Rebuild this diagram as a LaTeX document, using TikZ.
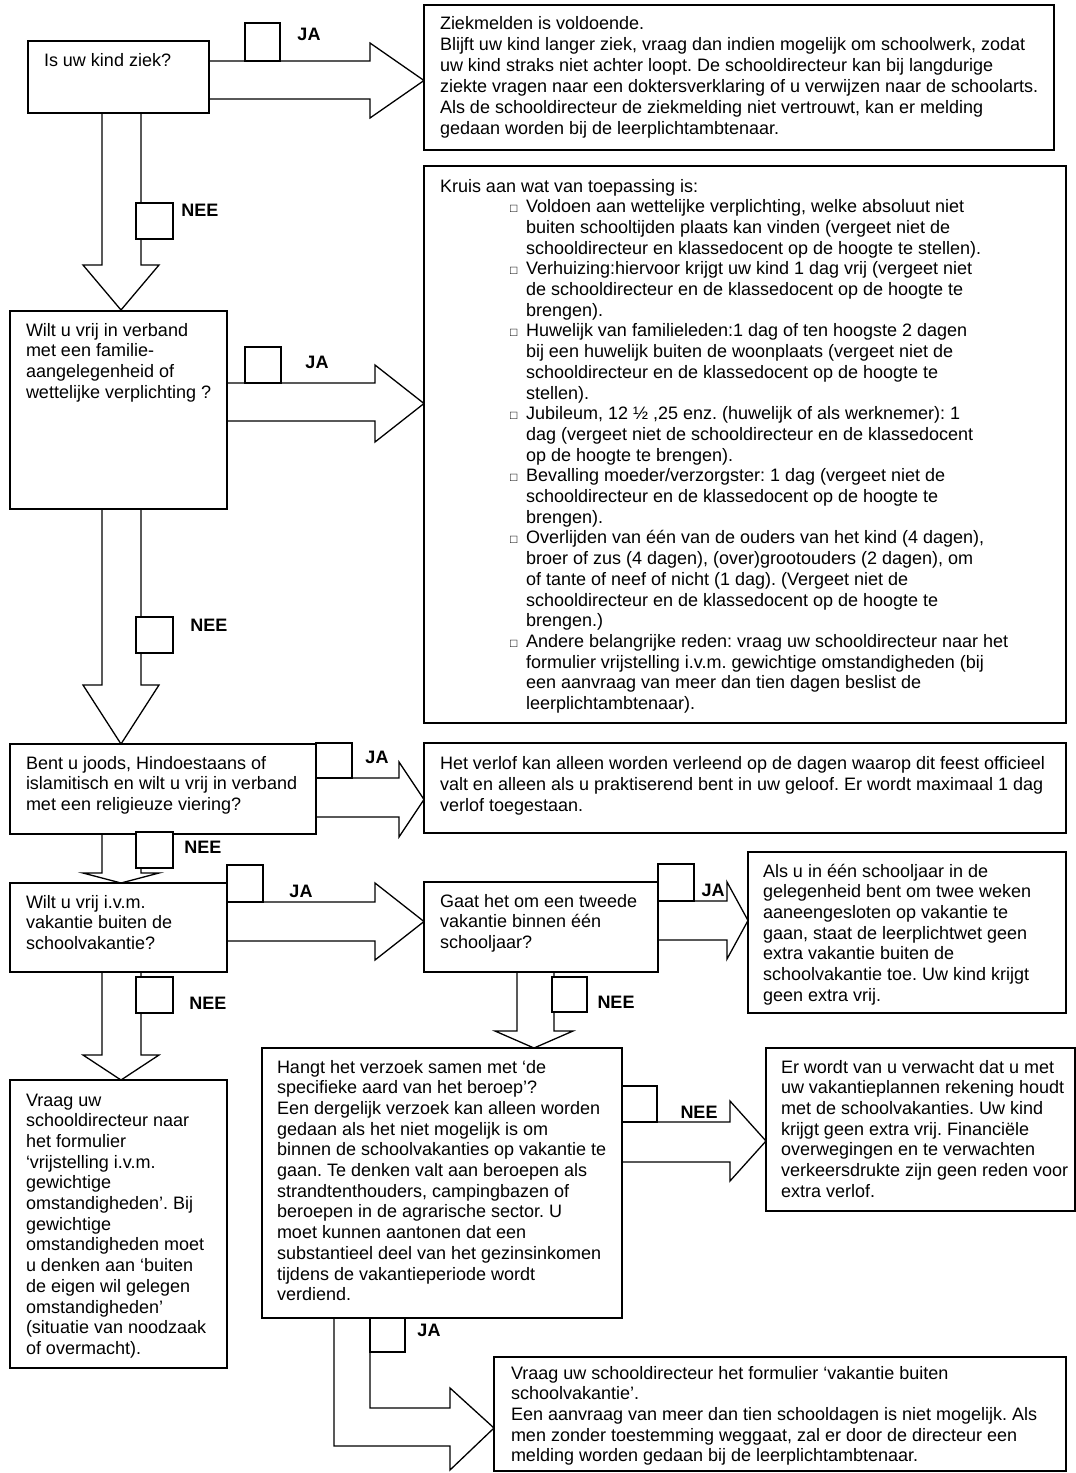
\documentclass[tikz,border=0pt]{standalone}
\usepackage{fontspec}
\setmainfont{Liberation Sans}
\newcommand\st{\rule{0pt}{14pt}}
\newcommand\itm{\hspace*{70pt}\makebox[16pt][l]{\fontsize{12}{12}\selectfont □}}
\newcommand\cnt{\hspace*{86pt}}
\tikzset{
  boxs/.style={draw=black, line width=1.3pt, fill=white, inner sep=0pt, outer sep=0pt, anchor=north west},
  txt/.style={anchor=north west, inner sep=0pt, outer sep=0pt, align=left, font=\fontsize{18}{20.7}\selectfont\frenchspacing},
  lbl/.style={font=\fontsize{18}{20}\selectfont\bfseries, inner sep=0pt},
  chk/.style={draw=black, line width=1.3pt, fill=white},
  blk/.style={draw=black, line width=1.3pt, fill=white, line join=miter},
}
% right block arrow: x0 x1 xtip ytop ybot headtop headbot
\newcommand\rarr[7]{\draw[blk] (#1,#4) -- (#2,#4) -- (#2,#6) -- (#3,{(#6+#7)/2}) -- (#2,#7) -- (#2,#5) -- (#1,#5);}
% down block arrow: xl xr y0 y1 headl headr ytip
\newcommand\darr[7]{\draw[blk] (#1,#3) -- (#1,#4) -- (#5,#4) -- ({(#5+#6)/2},#7) -- (#6,#4) -- (#2,#4) -- (#2,#3);}
\begin{document}
\frenchspacing
\begin{tikzpicture}[x=1pt,y=-1pt]
\useasboundingbox (0,0) rectangle (1076,1473);

% ---------- block arrows ----------
\rarr{209}{370}{424}{61}{99}{43}{118}
\darr{102}{141}{113}{265}{83}{159}{310}
\rarr{227}{375}{424}{383}{421}{365}{442}
\darr{102}{141}{509}{685}{83}{159}{744}
\rarr{316}{399}{424}{778}{817}{762}{837}
\darr{102}{141}{834}{873}{83}{159}{883}
\rarr{227}{375}{424}{902}{941}{883}{960}
\darr{102}{141}{972}{1055}{83}{159}{1080}
\rarr{658}{727}{748}{901}{940}{882}{959}
\darr{517}{554}{972}{1031}{495}{573}{1048}
\rarr{622}{730}{766}{1122}{1162}{1101}{1181}
\draw[blk] (334,1318) -- (334,1446) -- (450,1446) -- (450,1470) -- (494,1428) -- (450,1388) -- (450,1408) -- (370,1408) -- (370,1318);

% ---------- boxes ----------
\node[boxs, minimum width=181, minimum height=72]  (A) at (28,41) {};
\node[boxs, minimum width=217, minimum height=198] (B) at (10,311) {};
\node[boxs, minimum width=306, minimum height=90]  (C) at (10,744) {};
\node[boxs, minimum width=217, minimum height=89]  (D) at (10,883) {};
\node[boxs, minimum width=217, minimum height=288] (E) at (10,1080) {};
\node[boxs, minimum width=234, minimum height=90]  (F) at (424,882) {};
\node[boxs, minimum width=318, minimum height=161] (G) at (748,852) {};
\node[boxs, minimum width=360, minimum height=270] (H) at (262,1048) {};
\node[boxs, minimum width=309, minimum height=163] (I) at (766,1048) {};
\node[boxs, minimum width=572, minimum height=114] (J) at (494,1357) {};
\node[boxs, minimum width=630, minimum height=145] (Z1) at (424,5) {};
\node[boxs, minimum width=642, minimum height=557] (Z2) at (424,166) {};
\node[boxs, minimum width=642, minimum height=90]  (Z3) at (424,743) {};

% ---------- check squares ----------
\draw[chk] (245,23) rectangle (280,61);
\draw[chk] (136,203) rectangle (173,239);
\draw[chk] (245,347) rectangle (281,383);
\draw[chk] (136,617) rectangle (173,653);
\draw[chk] (316,743) rectangle (352,778);
\draw[chk] (136,832) rectangle (173,868);
\draw[chk] (227,865) rectangle (263,902);
\draw[chk] (136,977) rectangle (173,1013);
\draw[chk] (658,864) rectangle (694,901);
\draw[chk] (552,977) rectangle (587,1012);
\draw[chk] (622,1086) rectangle (657,1122);
\draw[chk] (370,1318) rectangle (405,1352);

% ---------- labels ----------
\node[lbl] (l1) at (309,34) {JA};
\node[lbl] (l2) at (200,210) {NEE};
\node[lbl] (l3) at (317,362) {JA};
\node[lbl] (l4) at (209,625) {NEE};
\node[lbl] (l5) at (377,757) {JA};
\node[lbl] (l6) at (203,847) {NEE};
\node[lbl] (l7) at (301,891) {JA};
\node[lbl] (l8) at (208,1003) {NEE};
\node[lbl] (l9) at (713,890) {JA};
\node[lbl] (l10) at (616,1002) {NEE};
\node[lbl] (l11) at (699,1112) {NEE};
\node[lbl] (l12) at (429,1330) {JA};

% ---------- texts ----------
\node[txt] (tA) at (44,52) {\st Is uw kind ziek?};
\node[txt] (tB) at (26,322) {\st Wilt u vrij in verband\\met een familie-\\aangelegenheid of\\wettelijke verplichting ?};
\node[txt] (tC) at (26,755) {\st Bent u joods, Hindoestaans of\\islamitisch en wilt u vrij in verband\\met een religieuze viering?};
\node[txt] (tD) at (26,894) {\st Wilt u vrij i.v.m.\\vakantie buiten de\\schoolvakantie?};
\node[txt] (tE) at (26,1092) {\st Vraag uw\\schooldirecteur naar\\het formulier\\‘vrijstelling i.v.m.\\gewichtige\\omstandigheden’. Bij\\gewichtige\\omstandigheden moet\\u denken aan ‘buiten\\de eigen wil gelegen\\omstandigheden’\\(situatie van noodzaak\\of overmacht).};
\node[txt] (tF) at (440,893) {\st Gaat het om een tweede\\vakantie binnen één\\schooljaar?};
\node[txt] (tG) at (763,863) {\st Als u in één schooljaar in de\\gelegenheid bent om twee weken\\aaneengesloten op vakantie te\\gaan, staat de leerplichtwet geen\\extra vakantie buiten de\\schoolvakantie toe. Uw kind krijgt\\geen extra vrij.};
\node[txt] (tH) at (277,1059) {\st Hangt het verzoek samen met ‘de\\specifieke aard van het beroep’?\\Een dergelijk verzoek kan alleen worden\\gedaan als het niet mogelijk is om\\binnen de schoolvakanties op vakantie te\\gaan. Te denken valt aan beroepen als\\strandtenthouders, campingbazen of\\beroepen in de agrarische sector. U\\moet kunnen aantonen dat een\\substantieel deel van het gezinsinkomen\\tijdens de vakantieperiode wordt\\verdiend.};
\node[txt] (tI) at (781,1059) {\st Er wordt van u verwacht dat u met\\uw vakantieplannen rekening houdt\\met de schoolvakanties. Uw kind\\krijgt geen extra vrij. Financiële\\overwegingen en te verwachten\\verkeersdrukte zijn geen reden voor\\extra verlof.};
\node[txt] (tJ) at (511,1365) {\st Vraag uw schooldirecteur het formulier ‘vakantie buiten\\schoolvakantie’.\\Een aanvraag van meer dan tien schooldagen is niet mogelijk. Als\\men zonder toestemming weggaat, zal er door de directeur een\\melding worden gedaan bij de leerplichtambtenaar.};
\node[txt, font=\fontsize{18}{21}\selectfont\frenchspacing] (tZ1) at (440,15) {\st Ziekmelden is voldoende.\\Blijft uw kind langer ziek, vraag dan indien mogelijk om schoolwerk, zodat\\uw kind straks niet achter loopt. De schooldirecteur kan bij langdurige\\ziekte vragen naar een doktersverklaring of u verwijzen naar de schoolarts.\\Als de schooldirecteur de ziekmelding niet vertrouwt, kan er melding\\gedaan worden bij de leerplichtambtenaar.};
\node[txt, font=\fontsize{18}{20.7}\selectfont\frenchspacing] (tZ2) at (440,178) {\st Kruis aan wat van toepassing is:\\
\itm Voldoen aan wettelijke verplichting, welke absoluut niet\\
\cnt buiten schooltijden plaats kan vinden (vergeet niet de\\
\cnt schooldirecteur en klassedocent op de hoogte te stellen).\\
\itm Verhuizing:hiervoor krijgt uw kind 1 dag vrij (vergeet niet\\
\cnt de schooldirecteur en de klassedocent op de hoogte te\\
\cnt brengen).\\
\itm Huwelijk van familieleden:1 dag of ten hoogste 2 dagen\\
\cnt bij een huwelijk buiten de woonplaats (vergeet niet de\\
\cnt schooldirecteur en de klassedocent op de hoogte te\\
\cnt stellen).\\
\itm Jubileum, 12 ½ ,25 enz. (huwelijk of als werknemer): 1\\
\cnt dag (vergeet niet de schooldirecteur en de klassedocent\\
\cnt op de hoogte te brengen).\\
\itm Bevalling moeder/verzorgster: 1 dag (vergeet niet de\\
\cnt schooldirecteur en de klassedocent op de hoogte te\\
\cnt brengen).\\
\itm Overlijden van één van de ouders van het kind (4 dagen),\\
\cnt broer of zus (4 dagen), (over)grootouders (2 dagen), om\\
\cnt of tante of neef of nicht (1 dag). (Vergeet niet de\\
\cnt schooldirecteur en de klassedocent op de hoogte te\\
\cnt brengen.)\\
\itm Andere belangrijke reden: vraag uw schooldirecteur naar het\\
\cnt formulier vrijstelling i.v.m. gewichtige omstandigheden (bij\\
\cnt een aanvraag van meer dan tien dagen beslist de\\
\cnt leerplichtambtenaar).};
\node[txt, font=\fontsize{18}{21}\selectfont\frenchspacing] (tZ3) at (440,755) {\st Het verlof kan alleen worden verleend op de dagen waarop dit feest officieel\\valt en alleen als u praktiserend bent in uw geloof. Er wordt maximaal 1 dag\\verlof toegestaan.};
\end{tikzpicture}
\end{document}
